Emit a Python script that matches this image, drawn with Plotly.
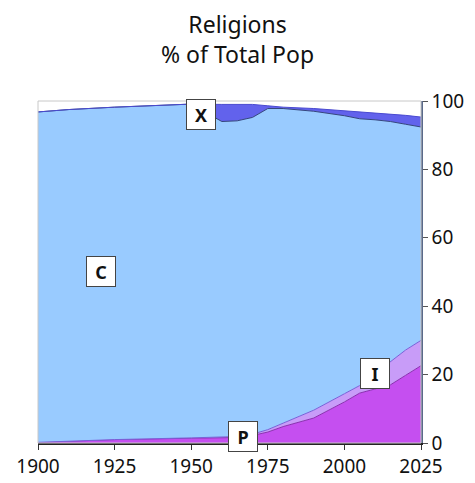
import plotly.graph_objects as go

years = [1900, 1910, 1925, 1950, 1960, 1965, 1970, 1975, 1980, 1990, 2000, 2005, 2010, 2015, 2020, 2025]
# layer shares (% of total population), stacked bottom to top
p_vals = [0.2, 0.6, 1.0, 1.4, 1.5, 1.6, 2.2, 3.2, 4.8, 7.3, 12.0, 14.6, 15.8, 17.0, 19.8, 22.6]
i_vals = [0.0, 0.0, 0.0, 0.1, 0.2, 0.3, 0.4, 0.7, 1.0, 2.3, 2.4, 2.2, 4.5, 6.8, 7.4, 7.4]
c_vals = [96.6, 96.9, 97.2, 97.6, 92.3, 92.3, 92.6, 93.9, 92.0, 87.4, 81.3, 78.0, 74.2, 70.2, 66.0, 62.4]
x_vals = [0.0, 0.0, 0.0, 0.0, 5.0, 4.8, 3.8, 0.8, 0.4, 0.8, 1.5, 2.1, 2.1, 2.2, 2.6, 2.9]

labels = ["P", "I", "C", "X"]
label_pos = {"X": (1953.3, 96.2), "C": (1920.6, 50.1), "I": (2010.0, 20.2), "P": (1966.9, 1.8)}

fills = ["#c54ff0", "#c89cf8", "#99cbff", "#6262ec"]
lines = ["#8a2fb0", "#7a5fd8", "#34467e", "#4a4ad0"]
series = [p_vals, i_vals, c_vals, x_vals]

fig = go.Figure()
for name, vals, fc, lc in zip(labels, series, fills, lines):
    fig.add_trace(go.Scatter(
        x=years, y=vals, name=name, mode="lines", stackgroup="one",
        fillcolor=fc, line=dict(color=lc, width=1), hoverinfo="skip",
    ))

for name in ["X", "C", "I", "P"]:
    ax, ay = label_pos[name]
    fig.add_annotation(
        x=ax, y=ay, text="<b>%s</b>" % name, showarrow=False,
        font=dict(family="Noto Sans", size=18, color="#111"),
        bgcolor="white", bordercolor="#444", borderwidth=1,
        width=26, height=27, borderpad=1,
    )

fig.add_annotation(
    text="Religions<br>% of Total Pop", xref="paper", yref="paper",
    x=0.52, y=1.18, xanchor="center", yanchor="middle", showarrow=False,
    font=dict(family="Noto Sans", size=23, color="#111"),
)

fig.add_shape(type="rect", xref="x domain", yref="y domain", x0=0, x1=1, y0=0, y1=1,
              line=dict(color="#c8c8c8", width=1), layer="above")

fig.update_layout(
    width=475, height=483,
    margin=dict(l=38, r=54, t=101, b=40, autoexpand=False),
    paper_bgcolor="white", plot_bgcolor="white",
    showlegend=False,
    font=dict(family="Noto Sans", size=19, color="#111"),
)
fig.update_xaxes(range=[1900, 2025], tickvals=[1900, 1925, 1950, 1975, 2000, 2025],
                 ticks="outside", ticklen=5, tickcolor="#333", showgrid=False,
                 showline=True, linecolor="#222", linewidth=1.5, zeroline=False,
                 tickfont=dict(size=19), automargin=False)
fig.update_yaxes(range=[0, 100], tickvals=[0, 20, 40, 60, 80, 100], side="right",
                 ticks="outside", ticklen=5, tickcolor="#555", showgrid=False,
                 showline=True, linecolor="#5a6a8a", linewidth=1.5, zeroline=False,
                 tickfont=dict(size=19), automargin=False)

fig.write_html("out.html", config={"displayModeBar": False},
               post_script="document.body.style.margin='0';document.body.style.overflow='hidden';")
